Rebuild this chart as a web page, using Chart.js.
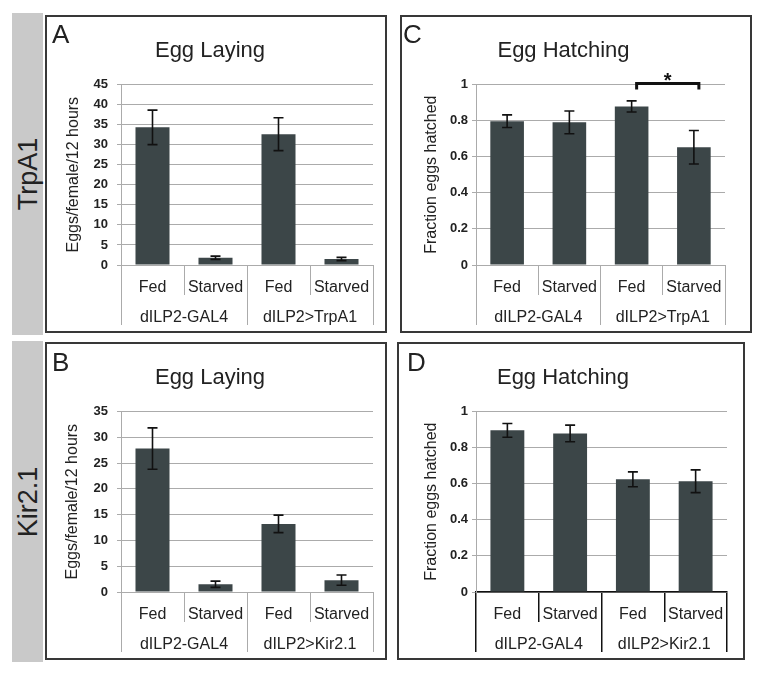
<!DOCTYPE html>
<html>
<head>
<meta charset="utf-8">
<script src="https://cdn.jsdelivr.net/npm/chart.js@4/dist/chart.umd.min.js"></script>
<style>
  body { margin: 0; background: #fff; width: 762px; height: 677px; position: relative; overflow: hidden;
         font-family: 'Liberation Sans', Arial, sans-serif; color: #222; }
  .strip { position: absolute; background: #c9c9c9; }
  .strip span { position: absolute; left: 50%; top: 50%; font-size: 27px; white-space: nowrap;
                transform: translate(-50%, -50%) rotate(-90deg); }
  .panel { position: absolute; box-sizing: border-box; border: 2px solid #383838; }
  .panel canvas { position: absolute; left: 0; top: 0; }
  .letter { position: absolute; font-size: 26px; line-height: 1; }
</style>
</head>
<body>
<div class="strip" style="left:12px;top:13px;width:31px;height:322px"><span>TrpA1</span></div>
<div class="strip" style="left:12px;top:341px;width:31px;height:321px"><span>Kir2.1</span></div>

<div class="panel" style="left:45px;top:15px;width:342px;height:318px"><canvas id="chartA" width="338" height="314"></canvas></div>
<div class="panel" style="left:400px;top:15px;width:352px;height:318px"><canvas id="chartC" width="348" height="314"></canvas></div>
<div class="panel" style="left:45px;top:342px;width:342px;height:318px"><canvas id="chartB" width="338" height="314"></canvas></div>
<div class="panel" style="left:397px;top:342px;width:348px;height:318px"><canvas id="chartD" width="344" height="314"></canvas></div>

<div class="letter" style="left:52px;top:21px">A</div>
<div class="letter" style="left:403px;top:21px">C</div>
<div class="letter" style="left:52px;top:349px">B</div>
<div class="letter" style="left:407px;top:349px">D</div>

<script>
const conditions = ['Fed', 'Starved', 'Fed', 'Starved'];
const groupsTrpA1 = ['dILP2-GAL4', 'dILP2>TrpA1'];
const groupsKir = ['dILP2-GAL4', 'dILP2>Kir2.1'];

// A: egg laying, TrpA1
const layingTrpA1 = [34.3, 1.8, 32.6, 1.5];
const layingTrpA1Err = [4.3, 0.4, 4.1, 0.4];
// C: egg hatching, TrpA1
const hatchTrpA1 = [0.796, 0.79, 0.878, 0.652];
const hatchTrpA1Err = [0.035, 0.063, 0.031, 0.093];
// B: egg laying, Kir2.1
const layingKir = [27.8, 1.5, 13.2, 2.3];
const layingKirErr = [4.0, 0.6, 1.7, 1.0];
// D: egg hatching, Kir2.1
const hatchKir = [0.895, 0.878, 0.624, 0.613];
const hatchKirErr = [0.038, 0.046, 0.041, 0.063];

const ticksLayingA = [0, 5, 10, 15, 20, 25, 30, 35, 40, 45];
const ticksLayingB = [0, 5, 10, 15, 20, 25, 30, 35];
const ticksHatch = [0, 0.2, 0.4, 0.6, 0.8, 1];

// significance bracket in C: [from index, to index, label]
const sigTrpA1 = [[2, 3, '*']];

const BAR = '#3c4648';
const GRID = '#ababab';

Chart.defaults.font.family = "'Liberation Sans', Arial, sans-serif";
Chart.defaults.color = '#222';

const errorBars = {
  id: 'errorBars',
  afterDatasetsDraw(chart, args, opts) {
    const errs = opts.values;
    if (!errs) return;
    const { ctx } = chart;
    const y = chart.scales.y;
    const vals = chart.data.datasets[0].data;
    ctx.save();
    ctx.strokeStyle = '#111';
    ctx.lineWidth = 1.6;
    chart.getDatasetMeta(0).data.forEach((bar, i) => {
      const top = y.getPixelForValue(vals[i] + errs[i]);
      const bot = y.getPixelForValue(vals[i] - errs[i]);
      ctx.beginPath();
      ctx.moveTo(bar.x, top); ctx.lineTo(bar.x, bot);
      ctx.moveTo(bar.x - 5, top); ctx.lineTo(bar.x + 5, top);
      ctx.moveTo(bar.x - 5, bot); ctx.lineTo(bar.x + 5, bot);
      ctx.stroke();
    });
    ctx.restore();
  },
};

const sigBracket = {
  id: 'sigBracket',
  afterDraw(chart, args, opts) {
    if (!opts.pairs) return;
    const { ctx } = chart;
    const { x, y } = chart.scales;
    opts.pairs.forEach(([a, b, label]) => {
      const x1 = x.getPixelForValue(a) + 5;
      const x2 = x.getPixelForValue(b) + 5;
      const yy = y.getPixelForValue(opts.level) - 1;
      ctx.save();
      ctx.strokeStyle = '#111';
      ctx.lineWidth = 3;
      ctx.beginPath();
      ctx.moveTo(x1, yy + 6); ctx.lineTo(x1, yy); ctx.lineTo(x2, yy); ctx.lineTo(x2, yy + 6);
      ctx.stroke();
      ctx.fillStyle = '#111';
      ctx.font = "bold 20px 'Liberation Sans', Arial";
      ctx.textAlign = 'center';
      ctx.textBaseline = 'alphabetic';
      ctx.fillText(label, (x1 + x2) / 2, yy + 4);
      ctx.restore();
    });
  },
};

// one row of the category "table" under the plot
function tableAxis(labels, weight, col, width) {
  const axis = {
    type: 'category',
    position: 'bottom',
    weight,
    afterFit(s) { s.height = 30; },
    grid: { offset: true, drawOnChartArea: false, tickLength: 30, color: col, lineWidth: width },
    ticks: { font: { size: 16 }, padding: -17, autoSkip: false, maxRotation: 0, color: '#222' },
  };
  if (labels) axis.labels = labels;
  return axis;
}

function makeChart(id, cfg) {
  const lineCol = cfg.tableColor || GRID;
  const lineW = cfg.tableWidth || 1;
  const x = tableAxis(null, 0, lineCol, lineW);
  x.border = { display: true, color: lineCol, width: lineW };
  const x2 = tableAxis(cfg.groups, 1, lineCol, lineW);
  x2.border = { display: false };
  return new Chart(document.getElementById(id), {
    type: 'bar',
    data: {
      labels: conditions,
      datasets: [{
        data: cfg.values,
        backgroundColor: BAR,
        barPercentage: 0.54,
        categoryPercentage: 1,
      }],
    },
    plugins: [errorBars, sigBracket],
    options: {
      responsive: false,
      animation: false,
      events: [],
      layout: { padding: { left: 0, right: cfg.padRight, top: 0, bottom: 6 } },
      plugins: {
        legend: { display: false },
        tooltip: { enabled: false },
        title: {
          display: true,
          text: cfg.title,
          font: { size: 22, weight: 'normal' },
          color: '#222',
          padding: { top: 21, bottom: 20 },
        },
        errorBars: { values: cfg.errors },
        sigBracket: { pairs: cfg.sig, level: 1 },
      },
      scales: {
        x,
        x2,
        y: {
          min: 0,
          max: cfg.ticks[cfg.ticks.length - 1],
          afterFit(s) { s.width = cfg.axisWidth; },
          afterBuildTicks(s) { s.ticks = cfg.ticks.map((v) => ({ value: v })); },
          grid: { color: GRID, tickLength: 4 },
          border: { display: true, color: GRID },
          ticks: {
            font: { size: 13, weight: 'bold' },
            padding: cfg.tickPad,
            color: '#222',
            callback: (v) => String(+v.toFixed(2)),
          },
          title: {
            display: true,
            text: cfg.yTitle,
            font: { size: 16 },
            color: '#222',
            padding: { top: cfg.yTitlePad, bottom: 0 },
          },
        },
      },
    },
  });
}

makeChart('chartA', {
  title: 'Egg Laying', values: layingTrpA1, errors: layingTrpA1Err, groups: groupsTrpA1,
  ticks: ticksLayingA, yTitle: 'Eggs/female/12 hours', axisWidth: 74, padRight: 12, tickPad: 9, yTitlePad: 17,
});
makeChart('chartC', {
  title: 'Egg Hatching', values: hatchTrpA1, errors: hatchTrpA1Err, groups: groupsTrpA1,
  ticks: ticksHatch, yTitle: 'Fraction eggs hatched', axisWidth: 74, padRight: 25, tickPad: 4, yTitlePad: 20,
  sig: sigTrpA1,
});
makeChart('chartB', {
  title: 'Egg Laying', values: layingKir, errors: layingKirErr, groups: groupsKir,
  ticks: ticksLayingB, yTitle: 'Eggs/female/12 hours', axisWidth: 74, padRight: 12, tickPad: 9, yTitlePad: 16,
});
makeChart('chartD', {
  title: 'Egg Hatching', values: hatchKir, errors: hatchKirErr, groups: groupsKir,
  ticks: ticksHatch, yTitle: 'Fraction eggs hatched', axisWidth: 77, padRight: 16, tickPad: 4, yTitlePad: 23,
  tableColor: '#111', tableWidth: 1.5,
});
</script>
</body>
</html>
